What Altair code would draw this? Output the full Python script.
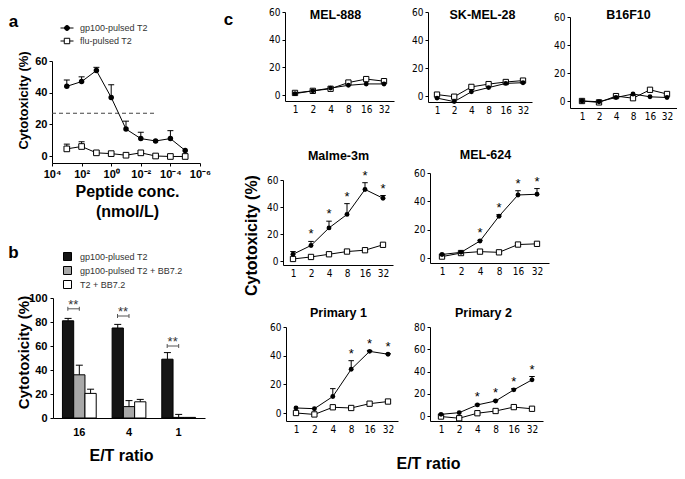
import altair as alt
import pandas as pd

# ------------------------------------------------------------------ data
# panel a : peptide titration
conc_a = [1e3, 1e2, 1e1, 1e0, 1e-1, 1e-2, 1e-3, 1e-4, 1e-5]
gp100_a = [44, 47, 54, 37, 17, 11, 9.5, 11, 3.5]
gp100_a_err = [4, 3, 2, 8, 5, 4, 0, 5, 0]
flu_a = [4.5, 6, 2, 1.5, 0.5, 2, 0, -0.3, -0.3]
flu_a_err = [3, 3, 0, 0, 0, 0, 0, 0, 0]
series_a = ["gp100-pulsed T2", "flu-pulsed T2"]
threshold_a = 27
threshold_from = 1e4
threshold_to = 1e-3
conc_ticks = [1e4, 1e2, 1e0, 1e-2, 1e-4, 1e-6]

# panel b : blocking
ratio_b = ["16", "4", "1"]
series_b = ["gp100-plused T2", "gp100-pulsed T2 + BB7.2", "T2 + BB7.2"]
b_gp100 = [81, 75, 49]
b_gp100_err = [2, 3, 5.5]
b_bb72 = [36, 9.5, 0.5]
b_bb72_err = [8, 5, 2.5]
b_t2 = [20.5, 13.5, 0.5]
b_t2_err = [3.5, 2, 0]
b_sig = [91, 85, 60]
b_sig_label = "**"

# panel c : cell lines
et_ratio = ["1", "2", "4", "8", "16", "32"]
c_names = ["MEL-888", "SK-MEL-28", "B16F10", "Malme-3m", "MEL-624", "Primary 1", "Primary 2"]
c_filled = {
    "MEL-888": [1, 3, 5, 7, 8, 8],
    "SK-MEL-28": [-1.5, -4, 3, 6, 9, 9.5],
    "B16F10": [0, -0.5, 2.5, 5, 3, 2.5],
    "Malme-3m": [5, 11.5, 24.5, 34.5, 53, 46.5],
    "MEL-624": [2.5, 4, 12, 29.5, 44.5, 45],
    "Primary 1": [3.5, 3, 11.5, 30.5, 43, 41],
    "Primary 2": [1.5, 3, 10, 13.5, 23.5, 32.5],
}
c_filled_err = {
    "MEL-888": [0, 0, 0, 0, 0, 0],
    "SK-MEL-28": [0, 0, 0, 0, 0, 0],
    "B16F10": [0, 0, 0, 0, 0, 0],
    "Malme-3m": [2, 3, 5, 8, 5, 2],
    "MEL-624": [0, 0.5, 0.5, 1, 3, 4],
    "Primary 1": [0, 0, 5.5, 6, 0.5, 0.5],
    "Primary 2": [0, 0, 0.5, 0.5, 1, 3],
}
c_open = {
    "MEL-888": [1.5, 3, 4.5, 9, 11.5, 10],
    "SK-MEL-28": [1, -0.5, 6.5, 8.5, 10, 11],
    "B16F10": [0, -1, 3.5, 2, 8, 5],
    "Malme-3m": [1.5, 3, 5, 7, 8, 12],
    "MEL-624": [1, 3.5, 4.5, 4, 9.5, 10],
    "Primary 1": [0, -1, 4, 3.5, 6.5, 8],
    "Primary 2": [-0.5, -2, 2.5, 4.5, 8, 6.5],
}
c_stars = {
    "MEL-888": [0, 0, 0, 0, 0, 0],
    "SK-MEL-28": [0, 0, 0, 0, 0, 0],
    "B16F10": [0, 0, 0, 0, 0, 0],
    "Malme-3m": [0, 1, 1, 1, 1, 1],
    "MEL-624": [0, 0, 1, 1, 1, 1],
    "Primary 1": [0, 0, 0, 1, 1, 1],
    "Primary 2": [0, 0, 1, 1, 1, 1],
}
c_ymax = {"MEL-888": 60, "SK-MEL-28": 60, "B16F10": 60, "Malme-3m": 60,
          "MEL-624": 60, "Primary 1": 60, "Primary 2": 80}

# ------------------------------------------------------------------ layout (page pixels)
OFF = 8
W, H = 669, 463
SANS = "Liberation Sans, Arial, Helvetica, sans-serif"
NARROW = "Liberation Sans Narrow, Arial Narrow, DejaVu Sans Condensed, Liberation Sans, sans-serif"


def px(v):
    return v - OFF


def axis(**kw):
    d = dict(grid=False, domainColor="black", domainWidth=1, tickColor="black", tickWidth=1,
             labelColor="black", labelFont=SANS, titleFont=SANS, titleColor="black",
             titleFontWeight="bold", labelOverlap=False, labelFlush=False)
    d.update(kw)
    return alt.Axis(**d)


# --------------------------------------------------------------- panel a
rows = []
for i, c in enumerate(conc_a):
    rows.append(dict(conc=c, series="gp100", value=gp100_a[i], err=gp100_a_err[i],
                     top=gp100_a[i] + gp100_a_err[i], idx=i))
    rows.append(dict(conc=c, series="flu", value=flu_a[i], err=flu_a_err[i],
                     top=flu_a[i] + flu_a_err[i], idx=i))
dfa = pd.DataFrame(rows)

a_ax, a_right, a_top, a_zero, a_bottom = 52, 200, 61, 156, 163
a_ylo = -60 * (a_bottom - a_zero) / (a_zero - a_top)
xs_a = alt.Scale(type="log", domain=[1e-6, 1e4], range=[px(a_right), px(a_ax)], nice=False)
ys_a = alt.Scale(domain=[a_ylo, 60], range=[px(a_bottom), px(a_top)], nice=False, zero=False)
xaxis_a = axis(orient="bottom", offset=px(a_bottom) - H, values=conc_ticks,
               labelExpr="['10⁻⁶','','10⁻⁴','','10⁻²','','10⁰','','10²','','10⁴'][round(log(datum.value)/LN10)+6]",
               tickSize=3, labelPadding=2, labelFontSize=11, labelFontWeight="bold",
               title=["Peptide conc.", "(nmol/L)"], titleFontSize=16, titleLineHeight=20,
               titleX=px(127), titleY=183 - a_bottom, titleBaseline="top", titleAlign="center")
yaxis_a = axis(orient="left", offset=-px(a_ax), values=[0, 20, 40, 60], tickSize=3, labelPadding=2,
               labelFontSize=11, labelFontWeight="bold",
               title="Cytotoxicity (%)", titleFontSize=13, titleX=px(23) - px(a_ax), titleY=px(100),
               titleBaseline="middle", titleAlign="center")


def XA(f="conc"):
    return alt.X(f"{f}:Q", scale=xs_a, axis=xaxis_a)


def YA(f="value"):
    return alt.Y(f"{f}:Q", scale=ys_a, axis=yaxis_a)


base_a = alt.Chart(dfa)
a_line = base_a.mark_line(color="black", strokeWidth=1).encode(
    x=XA(), y=YA(), detail="series:N", order="idx:Q")
a_err = base_a.transform_filter("datum.err > 0").mark_rule(color="black", strokeWidth=1).encode(
    x=XA(), y=YA(), y2="top:Q")
a_cap = base_a.transform_filter("datum.err > 0").mark_point(
    shape="stroke", size=36, filled=False, color="black", strokeWidth=1, opacity=1).encode(
    x=XA(), y=YA("top"))
a_sq = base_a.transform_filter("datum.series == 'flu'").mark_point(
    shape="square", size=32, filled=True, fill="white", stroke="black", strokeWidth=1, opacity=1).encode(
    x=XA(), y=YA())
a_dot = base_a.transform_filter("datum.series == 'gp100'").mark_point(
    shape="circle", size=30, filled=True, color="black", opacity=1).encode(x=XA(), y=YA())

dfthr = pd.DataFrame({"conc": [threshold_from], "conc2": [threshold_to], "value": [threshold_a]})
a_thr = alt.Chart(dfthr).mark_rule(color="#444444", strokeWidth=1.2, strokeDash=[4, 3]).encode(
    x=XA(), x2="conc2:Q", y=YA())

path_gp = "M-1,0L1,0M-0.38,0A0.38,0.38 0 1,0 0.38,0A0.38,0.38 0 1,0 -0.38,0Z"
path_flu = "M-1,0L-0.42,0M0.42,0L1,0M-0.42,-0.42L0.42,-0.42L0.42,0.42L-0.42,0.42Z"
leg_a = alt.Legend(orient="none", legendX=px(60), legendY=px(21), title=None, symbolSize=169,
                   symbolStrokeWidth=1, labelFont=SANS, labelFontSize=9,
                   labelColor="#333333", rowPadding=1, labelOffset=6)
dfleg_a = pd.DataFrame({"label": series_a, "conc": [1.0, 1.0], "value": [0, 0]})
a_leg = alt.Chart(dfleg_a).transform_filter("false").mark_point(
    filled=True, strokeWidth=1, opacity=1).encode(
    x=XA(), y=YA(),
    fill=alt.Fill("label:N", scale=alt.Scale(domain=series_a, range=["black", "white"]), legend=leg_a),
    stroke=alt.Stroke("label:N", scale=alt.Scale(domain=series_a, range=["black", "black"]), legend=leg_a),
    shape=alt.Shape("label:N", scale=alt.Scale(domain=series_a, range=[path_gp, path_flu]), legend=leg_a))

panel_a = alt.layer(a_thr, a_line, a_err, a_cap, a_sq, a_dot, a_leg)

# --------------------------------------------------------------- panel b
b_vals = [b_gp100, b_bb72, b_t2]
b_errs = [b_gp100_err, b_bb72_err, b_t2_err]
rows = []
for s, name in enumerate(series_b):
    for i, r in enumerate(ratio_b):
        rows.append(dict(ratio=r, series=name, value=b_vals[s][i], err=b_errs[s][i],
                         top=b_vals[s][i] + b_errs[s][i]))
dfb = pd.DataFrame(rows)
dfsig = pd.DataFrame({"ratio": ratio_b, "sig": b_sig, "label": [b_sig_label] * 3})

b_ax, b_right, b_top, b_zero = 53, 205, 298, 418
xs_b = alt.Scale(type="band", domain=ratio_b, range=[px(b_ax), px(b_right)],
                 paddingInner=0.32, paddingOuter=0.19)
ys_b = alt.Scale(domain=[0, 100], range=[px(b_zero), px(b_top)], nice=False)
xaxis_b = axis(orient="bottom", offset=px(b_zero) - H, ticks=False, tickSize=0, labelPadding=8,
               labelAngle=0, labelFontSize=11, labelFontWeight="bold",
               title="E/T ratio", titleFontSize=16, titleX=px(121), titleY=455 - b_zero,
               titleBaseline="middle", titleAlign="center")
yaxis_b = axis(orient="left", offset=-px(b_ax), values=[0, 20, 40, 60, 80, 100], tickSize=3,
               labelPadding=3, labelFontSize=11, labelFontWeight="bold",
               title="Cytotoxicity (%)", titleFontSize=15, titleX=px(23) - px(b_ax), titleY=px(352),
               titleBaseline="middle", titleAlign="center")
xo_b = alt.XOffset("series:N", scale=alt.Scale(domain=series_b, paddingInner=0, paddingOuter=0))


def XB():
    return alt.X("ratio:N", scale=xs_b, axis=xaxis_b)


def YB(f="value"):
    return alt.Y(f"{f}:Q", scale=ys_b, axis=yaxis_b)


leg_b = alt.Legend(orient="none", legendX=px(63), legendY=px(252), title=None, symbolType="square",
                   symbolSize=64, symbolStrokeColor="black", symbolStrokeWidth=1, labelFont=SANS,
                   labelFontSize=9, labelColor="#333333", rowPadding=1, labelOffset=8)
base_b = alt.Chart(dfb)
b_bar = base_b.mark_bar(stroke="black", strokeWidth=1).encode(
    x=XB(), xOffset=xo_b, y=YB(),
    fill=alt.Fill("series:N", scale=alt.Scale(domain=series_b, range=["#151515", "#a8a8a8", "white"]),
                  legend=leg_b))
b_err = base_b.transform_filter("datum.err > 0").mark_rule(color="black", strokeWidth=1).encode(
    x=XB(), xOffset=xo_b, y=YB(), y2="top:Q")
b_cap = base_b.transform_filter("datum.err > 0").mark_point(
    shape="stroke", size=49, filled=False, color="black", strokeWidth=1, opacity=1).encode(
    x=XB(), xOffset=xo_b, y=YB("top"))
bracket = "M-2,-0.35L-2,0.35M-2,0L0,0M0,-0.35L0,0.35"
b_br = alt.Chart(dfsig).mark_point(shape=bracket, size=132, filled=False, stroke="#555555",
                                   strokeWidth=1, opacity=1).encode(x=XB(), y=YB("sig"))
b_txt = alt.Chart(dfsig).mark_text(fontSize=13, font=SANS, dx=-6, baseline="alphabetic",
                                   color="#333333").encode(x=XB(), y=YB("sig"), text="label:N")
panel_b = alt.layer(b_bar, b_err, b_cap, b_br, b_txt)

# --------------------------------------------------------------- panel c
c_layout = {
    "MEL-888": dict(ax=285, first=295, last=384, ytop=12, y0=95, bottom=101, title=(335, 14)),
    "SK-MEL-28": dict(ax=428, first=437, last=523, ytop=12, y0=96, bottom=102, title=(482, 14)),
    "B16F10": dict(ax=570, first=582, last=667, ytop=17, y0=101, bottom=108, title=(628, 14)),
    "Malme-3m": dict(ax=283, first=293, last=383, ytop=180, y0=261, bottom=265, title=(338, 155)),
    "MEL-624": dict(ax=430, first=442, last=537, ytop=173, y0=258, bottom=263, title=(485, 154)),
    "Primary 1": dict(ax=286, first=296, last=388, ytop=327, y0=413, bottom=421, title=(338, 312)),
    "Primary 2": dict(ax=430, first=441, last=532, ytop=327, y0=416, bottom=421, title=(483, 312)),
}
# extra figure-level texts carried by y axes
c_extra = {
    "MEL-888": dict(title="c", titleAngle=0, titleFontSize=17, tx=228, ty=19),
    "SK-MEL-28": dict(title="Cytotoxicity (%)", titleAngle=270, titleFontSize=16, tx=251, ty=235),
    "B16F10": dict(title="E/T ratio", titleAngle=0, titleFontSize=16, tx=428, ty=463),
    "Malme-3m": dict(title="a", titleAngle=0, titleFontSize=17, tx=13, ty=21),
    "MEL-624": dict(title="b", titleAngle=0, titleFontSize=17, tx=13, ty=252),
}


def c_panel(name):
    L = c_layout[name]
    ymax = c_ymax[name]
    step = (L["last"] - L["first"]) / 5
    pad = (L["first"] - L["ax"]) / step
    end = L["last"] + pad * step
    ylo = -ymax * (L["bottom"] - L["y0"]) / (L["y0"] - L["ytop"])
    xs = alt.Scale(type="point", domain=et_ratio, range=[px(L["ax"]), px(end)], padding=pad)
    ys = alt.Scale(domain=[ylo, ymax], range=[px(L["bottom"]), px(L["ytop"])], nice=False, zero=False)
    xaxis = axis(orient="bottom", offset=px(L["bottom"]) - H, ticks=False, tickSize=0, labelPadding=3,
                 labelAngle=0, labelFont=NARROW, labelFontSize=10,
                 title=name, titleFontSize=12.5, titleX=px(L["title"][0]),
                 titleY=L["title"][1] - L["bottom"], titleBaseline="middle", titleAlign="center")
    ykw = dict(orient="left", offset=-px(L["ax"]), values=list(range(0, ymax + 1, 20)), tickSize=3,
               labelPadding=2, labelFont=NARROW, labelFontSize=10)
    if name in c_extra:
        e = c_extra[name]
        ykw.update(title=e["title"], titleAngle=e["titleAngle"], titleFontSize=e["titleFontSize"],
                   titleX=px(e["tx"]) - px(L["ax"]), titleY=px(e["ty"]),
                   titleBaseline="middle", titleAlign="center")
    else:
        ykw.update(title=None)
    yaxis = axis(**ykw)

    rows = []
    for i, r in enumerate(et_ratio):
        f = c_filled[name][i]
        fe = c_filled_err[name][i]
        rows.append(dict(et=r, idx=i, series="filled", value=f, err=fe, top=f + fe,
                         star=c_stars[name][i]))
        o = c_open[name][i]
        rows.append(dict(et=r, idx=i, series="open", value=o, err=0, top=o, star=0))
    df = pd.DataFrame(rows)
    X = alt.X("et:N", scale=xs, axis=xaxis)

    def Y(f="value"):
        return alt.Y(f"{f}:Q", scale=ys, axis=yaxis)

    b = alt.Chart(df)
    line = b.mark_line(color="black", strokeWidth=1).encode(x=X, y=Y(), detail="series:N", order="idx:Q")
    err = b.transform_filter("datum.err > 0").mark_rule(color="black", strokeWidth=1).encode(
        x=X, y=Y(), y2="top:Q")
    cap = b.transform_filter("datum.err > 0").mark_point(
        shape="stroke", size=30, filled=False, color="black", strokeWidth=1, opacity=1).encode(x=X, y=Y("top"))
    sq = b.transform_filter("datum.series == 'open'").mark_point(
        shape="square", size=28, filled=True, fill="white", stroke="black", strokeWidth=1, opacity=1).encode(
        x=X, y=Y())
    dot = b.transform_filter("datum.series == 'filled'").mark_point(
        shape="circle", size=24, filled=True, color="black", opacity=1).encode(x=X, y=Y())
    star = b.transform_filter("datum.star == 1").mark_text(
        text="*", fontSize=13, font=SANS, baseline="alphabetic", dy=-3, color="black").encode(x=X, y=Y("top"))
    return alt.layer(line, err, cap, sq, dot, star)


c_panels = [c_panel(n) for n in c_names]

chart = alt.layer(panel_a, panel_b, *c_panels).resolve_scale(
    x="independent", y="independent", fill="independent", shape="independent",
    stroke="independent", xOffset="independent"
).resolve_axis(x="independent", y="independent").resolve_legend(
    fill="independent", shape="independent", stroke="independent"
).properties(
    width=W, height=H, padding=0, autosize=alt.AutoSizeParams(type="none"), background="white"
).configure_view(stroke=None)

chart.save("out.html", embed_options={"renderer": "svg", "actions": False})
